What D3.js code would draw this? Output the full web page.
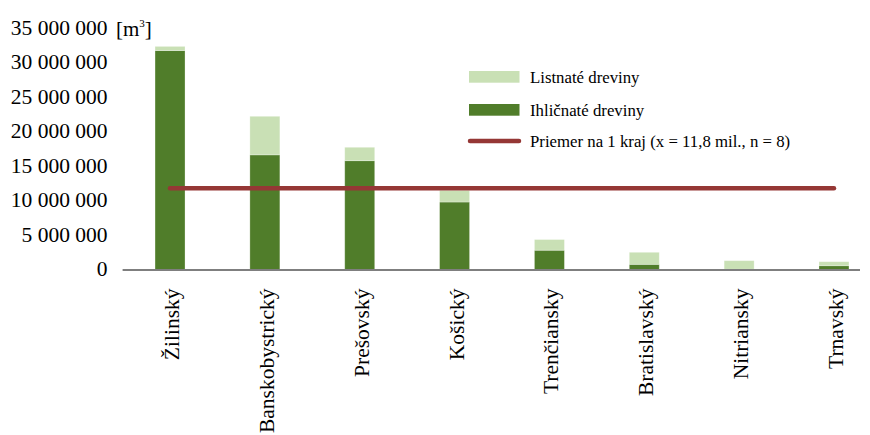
<!DOCTYPE html>
<html>
<head>
<meta charset="utf-8">
<script src="https://cdn.jsdelivr.net/npm/d3@7"></script>
<style>
  html, body { margin: 0; padding: 0; background: #fff; }
  svg { display: block; font-family: "Liberation Serif", "DejaVu Serif", serif; }
</style>
</head>
<body>
<svg id="chart" width="870" height="435"></svg>
<script>
const categories = ["Žilinský","Banskobystrický","Prešovský","Košický","Trenčiansky","Bratislavský","Nitriansky","Trnavský"];
const ihlicnate = [31800000, 16650000, 15800000, 9800000, 2800000, 750000, 30000, 550000];
const listnate  = [600000, 5600000, 1950000, 1700000, 1550000, 1750000, 1250000, 580000];
const average = 11800000;
const yTicks = [0, 5000000, 10000000, 15000000, 20000000, 25000000, 30000000, 35000000];
const seriesNames = ["Listnaté dreviny", "Ihličnaté dreviny", "Priemer na 1 kraj (x = 11,8 mil., n = 8)"];

const colLight = "#c9e0b5", colDark = "#507d2a", colRed = "#953735";
const serif = "Liberation Serif, DejaVu Serif, serif";

const svg = d3.select("#chart");
const x = d3.scaleBand().domain(categories).range([122.6, 881.4]).paddingInner(0.684).paddingOuter(0.342);
const y = d3.scaleLinear().domain([0, 35000000]).range([269.5, 28.5]);
const fmt = d3.formatLocale({decimal: ",", thousands: " ", grouping: [3], currency: ["", ""]}).format(",d");

// y axis labels
const yAxis = d3.axisLeft(y).tickValues(yTicks).tickFormat(fmt).tickSize(0).tickPadding(15);
const gy = svg.append("g").attr("transform", "translate(122.6,0)").call(yAxis);
gy.attr("font-family", serif);
gy.select(".domain").remove();
gy.selectAll("text").attr("font-size", 21.5).attr("fill", "#000").attr("dy", "0.28em");

// unit
const unit = svg.append("text").attr("x", 116).attr("y", 36).attr("font-size", 21).attr("fill", "#000");
unit.append("tspan").text("[m");
unit.append("tspan").text("3").attr("font-size", 11).attr("dy", -9);
unit.append("tspan").text("]").attr("dy", 9);

// bars
const data = categories.map((c, i) => ({c, ih: ihlicnate[i], li: listnate[i]}));
svg.append("g").selectAll("rect").data(data).join("rect")
  .attr("x", d => x(d.c)).attr("width", x.bandwidth())
  .attr("y", d => y(d.ih)).attr("height", d => y(0) - y(d.ih))
  .attr("fill", colDark).attr("stroke", "#ffffff").attr("stroke-opacity", 0.35).attr("stroke-width", 0.8);
svg.append("g").selectAll("rect").data(data).join("rect")
  .attr("x", d => x(d.c)).attr("width", x.bandwidth())
  .attr("y", d => y(d.ih + d.li)).attr("height", d => y(d.ih) - y(d.ih + d.li))
  .attr("fill", colLight).attr("stroke", "#ffffff").attr("stroke-opacity", 0.35).attr("stroke-width", 0.8);

// x axis
const xAxis = d3.axisBottom(x).tickSize(0).tickPadding(0);
const gx = svg.append("g").attr("transform", `translate(0,${y(0)})`).call(xAxis);
gx.attr("font-family", serif);
gx.select(".domain").remove();
gx.selectAll("text")
  .attr("font-size", 21.5).attr("fill", "#000")
  .attr("text-anchor", "end").attr("dy", null).attr("y", null)
  .attr("transform", "translate(4,19) rotate(-90)")
  .attr("dominant-baseline", "middle");
svg.append("line").attr("x1", 122.6).attr("x2", 860).attr("y1", 270).attr("y2", 270)
  .attr("stroke", "#7f7f7f").attr("stroke-width", 2);

// average line
const first = categories[0], last = categories[categories.length - 1];
svg.append("line")
  .attr("x1", x(first) + x.bandwidth() / 2).attr("x2", x(last) + x.bandwidth() / 2)
  .attr("y1", y(average)).attr("y2", y(average))
  .attr("stroke", colRed).attr("stroke-width", 4.5).attr("stroke-linecap", "round");

// legend
const lg = svg.append("g").attr("font-family", serif);
lg.append("rect").attr("x", 469).attr("y", 71).attr("width", 50.5).attr("height", 11.7).attr("fill", colLight);
lg.append("rect").attr("x", 469).attr("y", 104).attr("width", 50.5).attr("height", 11.7).attr("fill", colDark);
lg.append("line").attr("x1", 470).attr("x2", 519).attr("y1", 141).attr("y2", 141)
  .attr("stroke", colRed).attr("stroke-width", 4.5).attr("stroke-linecap", "round");
[83, 116, 147].forEach((yy, i) => {
  lg.append("text").attr("x", 530).attr("y", yy).attr("font-size", 16.8).attr("fill", "#000").text(seriesNames[i]);
});
</script>
</body>
</html>
